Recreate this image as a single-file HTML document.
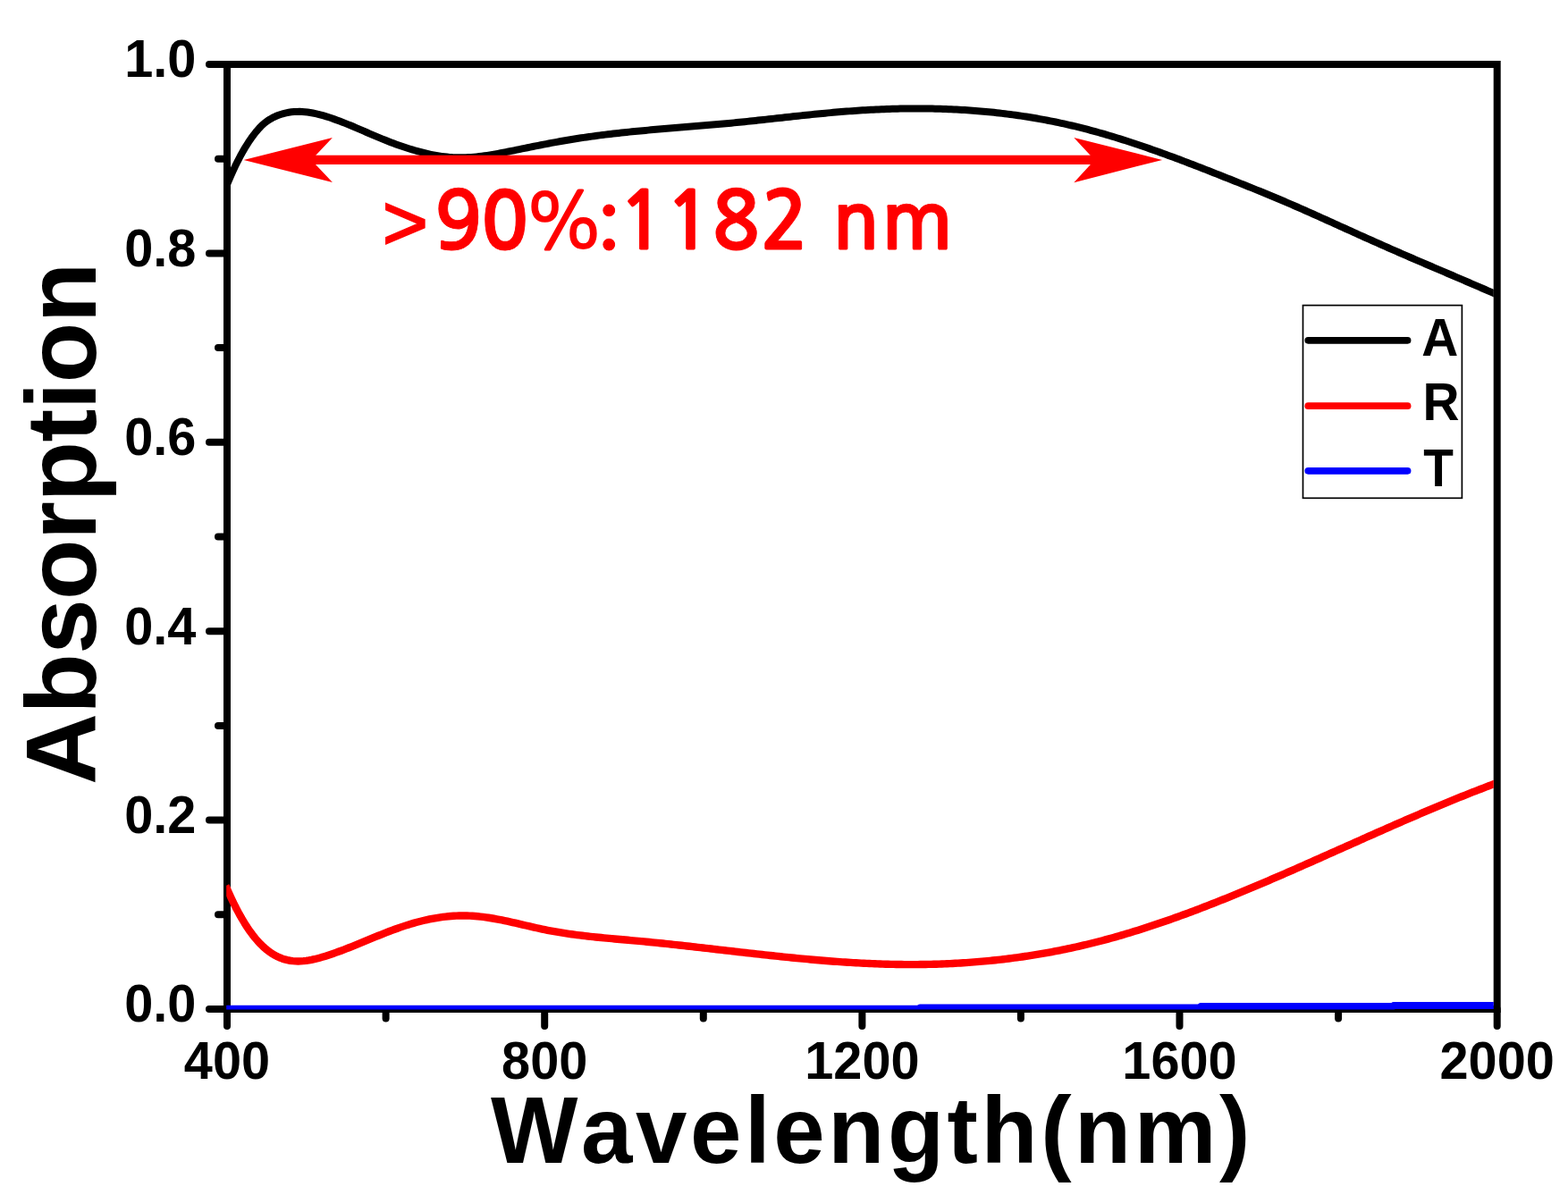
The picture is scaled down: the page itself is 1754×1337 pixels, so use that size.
<!DOCTYPE html>
<html><head><meta charset="utf-8"><style>
html,body{margin:0;padding:0;background:#fff;width:1754px;height:1337px;overflow:hidden}
svg{display:block}
.b{font-family:"Liberation Sans",Arial,sans-serif;font-weight:bold}
text{font-kerning:none;font-feature-settings:"kern" 0}
.nb{font-family:NanumGothic,"Liberation Sans",sans-serif;font-weight:bold;stroke-width:0.9px}
.nr{font-family:NanumGothic,"Liberation Sans",sans-serif;font-weight:normal}
</style></head><body>
<svg width="1754" height="1337" viewBox="0 0 1754 1337">
<defs><clipPath id="c"><rect x="253.2" y="60" width="1417.6" height="1069.5"/></clipPath></defs>
<rect width="1754" height="1337" fill="#fff"/>
<g stroke="#000" stroke-width="8" stroke-linecap="round" fill="none">
<line x1="234" y1="1129.0" x2="254" y2="1129.0"/>
<line x1="244" y1="1023.3" x2="254" y2="1023.3"/>
<line x1="234" y1="917.6" x2="254" y2="917.6"/>
<line x1="244" y1="811.9" x2="254" y2="811.9"/>
<line x1="234" y1="706.2" x2="254" y2="706.2"/>
<line x1="244" y1="600.5" x2="254" y2="600.5"/>
<line x1="234" y1="494.8" x2="254" y2="494.8"/>
<line x1="244" y1="389.1" x2="254" y2="389.1"/>
<line x1="234" y1="283.4" x2="254" y2="283.4"/>
<line x1="244" y1="177.7" x2="254" y2="177.7"/>
<line x1="234" y1="72.0" x2="254" y2="72.0"/>
<line x1="254.0" y1="1129" x2="254.0" y2="1148.0"/>
<line x1="431.6" y1="1129" x2="431.6" y2="1139.5"/>
<line x1="609.2" y1="1129" x2="609.2" y2="1148.0"/>
<line x1="786.8" y1="1129" x2="786.8" y2="1139.5"/>
<line x1="964.4" y1="1129" x2="964.4" y2="1148.0"/>
<line x1="1141.9" y1="1129" x2="1141.9" y2="1139.5"/>
<line x1="1319.5" y1="1129" x2="1319.5" y2="1148.0"/>
<line x1="1497.1" y1="1129" x2="1497.1" y2="1139.5"/>
<line x1="1674.7" y1="1129" x2="1674.7" y2="1148.0"/>
</g>
<rect x="254" y="72" width="1420.7" height="1057" fill="none" stroke="#000" stroke-width="8"/>
<g clip-path="url(#c)" fill="none" stroke-width="8" stroke-linejoin="round">
<path d="M250.0,1128.7 L1028.0,1128.7 L1029.0,1127.4 L1342.0,1127.4 L1343.0,1126.1 L1558.0,1126.1 L1559.0,1125.1 L1678.0,1125.1" stroke="#0000ff" stroke-width="8"/>
<path d="M252.5,990.98 L255.5,997.91 L258.5,1004.52 L261.5,1010.79 L264.5,1016.74 L267.5,1022.37 L270.5,1027.68 L273.5,1032.68 L276.5,1037.37 L279.5,1041.76 L282.5,1045.84 L285.5,1049.63 L288.5,1053.13 L291.5,1056.34 L294.5,1059.27 L297.5,1061.91 L300.5,1064.29 L303.5,1066.40 L306.5,1068.26 L309.5,1069.88 L312.5,1071.28 L315.5,1072.45 L318.5,1073.41 L321.5,1074.18 L324.5,1074.75 L327.5,1075.15 L330.5,1075.38 L333.5,1075.46 L336.5,1075.39 L339.5,1075.18 L342.5,1074.85 L345.5,1074.41 L348.5,1073.86 L351.5,1073.22 L354.5,1072.49 L357.5,1071.69 L360.5,1070.83 L363.5,1069.92 L366.5,1068.97 L369.5,1067.98 L372.5,1066.95 L375.5,1065.90 L378.5,1064.81 L381.5,1063.70 L384.5,1062.56 L387.5,1061.40 L390.5,1060.22 L393.5,1059.03 L396.5,1057.82 L399.5,1056.60 L402.5,1055.37 L405.5,1054.14 L408.5,1052.90 L411.5,1051.66 L414.5,1050.42 L417.5,1049.18 L420.5,1047.96 L423.5,1046.74 L426.5,1045.53 L429.5,1044.34 L432.5,1043.16 L435.5,1042.01 L438.5,1040.87 L441.5,1039.76 L444.5,1038.68 L447.5,1037.63 L450.5,1036.61 L453.5,1035.62 L456.5,1034.67 L459.5,1033.76 L462.5,1032.88 L465.5,1032.05 L468.5,1031.25 L471.5,1030.49 L474.5,1029.77 L477.5,1029.09 L480.5,1028.46 L483.5,1027.87 L486.5,1027.32 L489.5,1026.82 L492.5,1026.36 L495.5,1025.95 L498.5,1025.59 L501.5,1025.27 L504.5,1025.01 L507.5,1024.80 L510.5,1024.63 L513.5,1024.52 L516.5,1024.46 L519.5,1024.46 L522.5,1024.51 L525.5,1024.61 L528.5,1024.77 L531.5,1024.99 L534.5,1025.25 L537.5,1025.56 L540.5,1025.92 L543.5,1026.32 L546.5,1026.76 L549.5,1027.23 L552.5,1027.74 L555.5,1028.28 L558.5,1028.85 L561.5,1029.45 L564.5,1030.07 L567.5,1030.70 L570.5,1031.36 L573.5,1032.03 L576.5,1032.71 L579.5,1033.40 L582.5,1034.09 L585.5,1034.79 L588.5,1035.49 L591.5,1036.18 L594.5,1036.87 L597.5,1037.56 L600.5,1038.23 L603.5,1038.89 L606.5,1039.53 L609.5,1040.15 L612.5,1040.76 L615.5,1041.33 L618.5,1041.89 L621.5,1042.43 L624.5,1042.94 L627.5,1043.44 L630.5,1043.91 L633.5,1044.37 L636.5,1044.81 L639.5,1045.24 L642.5,1045.65 L645.5,1046.04 L648.5,1046.42 L651.5,1046.79 L654.5,1047.14 L657.5,1047.48 L660.5,1047.82 L663.5,1048.14 L666.5,1048.45 L669.5,1048.76 L672.5,1049.05 L675.5,1049.34 L678.5,1049.63 L681.5,1049.91 L684.5,1050.18 L687.5,1050.45 L690.5,1050.72 L693.5,1050.99 L696.5,1051.26 L699.5,1051.52 L702.5,1051.79 L705.5,1052.06 L708.5,1052.33 L711.5,1052.60 L714.5,1052.88 L717.5,1053.16 L720.5,1053.44 L723.5,1053.73 L726.5,1054.02 L729.5,1054.32 L732.5,1054.62 L735.5,1054.92 L738.5,1055.23 L741.5,1055.54 L744.5,1055.86 L747.5,1056.17 L750.5,1056.49 L753.5,1056.81 L756.5,1057.14 L759.5,1057.46 L762.5,1057.79 L765.5,1058.12 L768.5,1058.46 L771.5,1058.79 L774.5,1059.13 L777.5,1059.47 L780.5,1059.81 L783.5,1060.15 L786.5,1060.49 L789.5,1060.83 L792.5,1061.17 L795.5,1061.52 L798.5,1061.86 L801.5,1062.21 L804.5,1062.55 L807.5,1062.90 L810.5,1063.24 L813.5,1063.59 L816.5,1063.93 L819.5,1064.28 L822.5,1064.62 L825.5,1064.97 L828.5,1065.31 L831.5,1065.65 L834.5,1065.99 L837.5,1066.33 L840.5,1066.67 L843.5,1067.00 L846.5,1067.34 L849.5,1067.67 L852.5,1068.00 L855.5,1068.33 L858.5,1068.66 L861.5,1068.98 L864.5,1069.30 L867.5,1069.62 L870.5,1069.94 L873.5,1070.25 L876.5,1070.56 L879.5,1070.87 L882.5,1071.17 L885.5,1071.47 L888.5,1071.77 L891.5,1072.06 L894.5,1072.35 L897.5,1072.64 L900.5,1072.92 L903.5,1073.19 L906.5,1073.46 L909.5,1073.73 L912.5,1073.99 L915.5,1074.25 L918.5,1074.50 L921.5,1074.75 L924.5,1074.99 L927.5,1075.23 L930.5,1075.46 L933.5,1075.69 L936.5,1075.91 L939.5,1076.12 L942.5,1076.33 L945.5,1076.53 L948.5,1076.72 L951.5,1076.91 L954.5,1077.09 L957.5,1077.27 L960.5,1077.43 L963.5,1077.60 L966.5,1077.75 L969.5,1077.89 L972.5,1078.03 L975.5,1078.16 L978.5,1078.29 L981.5,1078.40 L984.5,1078.51 L987.5,1078.61 L990.5,1078.70 L993.5,1078.78 L996.5,1078.85 L999.5,1078.92 L1002.5,1078.97 L1005.5,1079.02 L1008.5,1079.05 L1011.5,1079.08 L1014.5,1079.10 L1017.5,1079.11 L1020.5,1079.11 L1023.5,1079.10 L1026.5,1079.08 L1029.5,1079.05 L1032.5,1079.02 L1035.5,1078.97 L1038.5,1078.91 L1041.5,1078.84 L1044.5,1078.77 L1047.5,1078.68 L1050.5,1078.59 L1053.5,1078.48 L1056.5,1078.36 L1059.5,1078.24 L1062.5,1078.10 L1065.5,1077.96 L1068.5,1077.80 L1071.5,1077.63 L1074.5,1077.46 L1077.5,1077.27 L1080.5,1077.07 L1083.5,1076.87 L1086.5,1076.65 L1089.5,1076.42 L1092.5,1076.18 L1095.5,1075.93 L1098.5,1075.67 L1101.5,1075.40 L1104.5,1075.12 L1107.5,1074.83 L1110.5,1074.53 L1113.5,1074.21 L1116.5,1073.89 L1119.5,1073.55 L1122.5,1073.21 L1125.5,1072.85 L1128.5,1072.48 L1131.5,1072.10 L1134.5,1071.71 L1137.5,1071.31 L1140.5,1070.89 L1143.5,1070.47 L1146.5,1070.03 L1149.5,1069.58 L1152.5,1069.12 L1155.5,1068.65 L1158.5,1068.17 L1161.5,1067.68 L1164.5,1067.17 L1167.5,1066.65 L1170.5,1066.12 L1173.5,1065.58 L1176.5,1065.03 L1179.5,1064.47 L1182.5,1063.89 L1185.5,1063.30 L1188.5,1062.70 L1191.5,1062.09 L1194.5,1061.46 L1197.5,1060.82 L1200.5,1060.17 L1203.5,1059.51 L1206.5,1058.84 L1209.5,1058.15 L1212.5,1057.45 L1215.5,1056.74 L1218.5,1056.02 L1221.5,1055.28 L1224.5,1054.53 L1227.5,1053.77 L1230.5,1052.99 L1233.5,1052.21 L1236.5,1051.41 L1239.5,1050.60 L1242.5,1049.77 L1245.5,1048.94 L1248.5,1048.09 L1251.5,1047.23 L1254.5,1046.36 L1257.5,1045.48 L1260.5,1044.59 L1263.5,1043.69 L1266.5,1042.78 L1269.5,1041.85 L1272.5,1040.92 L1275.5,1039.97 L1278.5,1039.02 L1281.5,1038.05 L1284.5,1037.08 L1287.5,1036.09 L1290.5,1035.10 L1293.5,1034.09 L1296.5,1033.08 L1299.5,1032.05 L1302.5,1031.02 L1305.5,1029.98 L1308.5,1028.93 L1311.5,1027.87 L1314.5,1026.80 L1317.5,1025.72 L1320.5,1024.64 L1323.5,1023.55 L1326.5,1022.45 L1329.5,1021.34 L1332.5,1020.22 L1335.5,1019.09 L1338.5,1017.96 L1341.5,1016.82 L1344.5,1015.67 L1347.5,1014.52 L1350.5,1013.36 L1353.5,1012.19 L1356.5,1011.02 L1359.5,1009.83 L1362.5,1008.65 L1365.5,1007.45 L1368.5,1006.25 L1371.5,1005.04 L1374.5,1003.83 L1377.5,1002.61 L1380.5,1001.39 L1383.5,1000.16 L1386.5,998.92 L1389.5,997.68 L1392.5,996.44 L1395.5,995.19 L1398.5,993.93 L1401.5,992.67 L1404.5,991.41 L1407.5,990.14 L1410.5,988.87 L1413.5,987.59 L1416.5,986.31 L1419.5,985.02 L1422.5,983.73 L1425.5,982.44 L1428.5,981.14 L1431.5,979.84 L1434.5,978.54 L1437.5,977.24 L1440.5,975.93 L1443.5,974.61 L1446.5,973.30 L1449.5,971.98 L1452.5,970.66 L1455.5,969.34 L1458.5,968.02 L1461.5,966.69 L1464.5,965.36 L1467.5,964.04 L1470.5,962.70 L1473.5,961.37 L1476.5,960.04 L1479.5,958.70 L1482.5,957.37 L1485.5,956.03 L1488.5,954.69 L1491.5,953.35 L1494.5,952.01 L1497.5,950.67 L1500.5,949.34 L1503.5,948.00 L1506.5,946.66 L1509.5,945.32 L1512.5,943.98 L1515.5,942.64 L1518.5,941.30 L1521.5,939.96 L1524.5,938.63 L1527.5,937.29 L1530.5,935.96 L1533.5,934.62 L1536.5,933.29 L1539.5,931.96 L1542.5,930.63 L1545.5,929.30 L1548.5,927.98 L1551.5,926.66 L1554.5,925.34 L1557.5,924.02 L1560.5,922.70 L1563.5,921.39 L1566.5,920.08 L1569.5,918.77 L1572.5,917.47 L1575.5,916.16 L1578.5,914.87 L1581.5,913.57 L1584.5,912.28 L1587.5,910.99 L1590.5,909.71 L1593.5,908.43 L1596.5,907.15 L1599.5,905.88 L1602.5,904.61 L1605.5,903.35 L1608.5,902.09 L1611.5,900.84 L1614.5,899.59 L1617.5,898.35 L1620.5,897.11 L1623.5,895.88 L1626.5,894.65 L1629.5,893.43 L1632.5,892.21 L1635.5,891.00 L1638.5,889.80 L1641.5,888.60 L1644.5,887.41 L1647.5,886.22 L1650.5,885.05 L1653.5,883.87 L1656.5,882.71 L1659.5,881.55 L1662.5,880.40 L1665.5,879.25 L1668.5,878.12 L1671.5,876.99 L1674.5,875.87 L1677.5,874.75" stroke="#ff0000" stroke-width="8.4"/>
<path d="M251.0,213.56 L254.0,206.43 L257.0,199.45 L260.0,192.69 L263.0,186.19 L266.0,180.03 L269.0,174.26 L272.0,168.86 L275.0,163.81 L278.0,159.11 L281.0,154.72 L284.0,150.63 L287.0,146.84 L290.0,143.40 L293.0,140.32 L296.0,137.63 L299.0,135.33 L302.0,133.38 L305.0,131.72 L308.0,130.29 L311.0,129.04 L314.0,127.96 L317.0,127.06 L320.0,126.33 L323.0,125.75 L326.0,125.32 L329.0,125.03 L332.0,124.88 L335.0,124.86 L338.0,124.97 L341.0,125.19 L344.0,125.52 L347.0,125.95 L350.0,126.48 L353.0,127.10 L356.0,127.80 L359.0,128.58 L362.0,129.42 L365.0,130.33 L368.0,131.29 L371.0,132.31 L374.0,133.36 L377.0,134.45 L380.0,135.57 L383.0,136.72 L386.0,137.89 L389.0,139.09 L392.0,140.32 L395.0,141.56 L398.0,142.82 L401.0,144.10 L404.0,145.39 L407.0,146.70 L410.0,148.00 L413.0,149.30 L416.0,150.60 L419.0,151.89 L422.0,153.15 L425.0,154.40 L428.0,155.63 L431.0,156.83 L434.0,158.01 L437.0,159.17 L440.0,160.30 L443.0,161.40 L446.0,162.48 L449.0,163.53 L452.0,164.54 L455.0,165.53 L458.0,166.48 L461.0,167.40 L464.0,168.29 L467.0,169.14 L470.0,169.95 L473.0,170.73 L476.0,171.46 L479.0,172.15 L482.0,172.80 L485.0,173.39 L488.0,173.94 L491.0,174.44 L494.0,174.88 L497.0,175.27 L500.0,175.60 L503.0,175.87 L506.0,176.09 L509.0,176.24 L512.0,176.32 L515.0,176.35 L518.0,176.31 L521.0,176.22 L524.0,176.08 L527.0,175.89 L530.0,175.65 L533.0,175.37 L536.0,175.05 L539.0,174.68 L542.0,174.28 L545.0,173.85 L548.0,173.39 L551.0,172.90 L554.0,172.38 L557.0,171.84 L560.0,171.28 L563.0,170.71 L566.0,170.12 L569.0,169.52 L572.0,168.91 L575.0,168.30 L578.0,167.68 L581.0,167.06 L584.0,166.44 L587.0,165.83 L590.0,165.22 L593.0,164.61 L596.0,164.01 L599.0,163.41 L602.0,162.81 L605.0,162.22 L608.0,161.64 L611.0,161.06 L614.0,160.49 L617.0,159.92 L620.0,159.36 L623.0,158.82 L626.0,158.28 L629.0,157.74 L632.0,157.22 L635.0,156.71 L638.0,156.21 L641.0,155.72 L644.0,155.24 L647.0,154.78 L650.0,154.32 L653.0,153.87 L656.0,153.44 L659.0,153.01 L662.0,152.60 L665.0,152.19 L668.0,151.79 L671.0,151.40 L674.0,151.02 L677.0,150.65 L680.0,150.29 L683.0,149.93 L686.0,149.58 L689.0,149.24 L692.0,148.91 L695.0,148.58 L698.0,148.26 L701.0,147.95 L704.0,147.64 L707.0,147.34 L710.0,147.04 L713.0,146.75 L716.0,146.46 L719.0,146.18 L722.0,145.90 L725.0,145.62 L728.0,145.35 L731.0,145.09 L734.0,144.82 L737.0,144.56 L740.0,144.30 L743.0,144.05 L746.0,143.79 L749.0,143.54 L752.0,143.29 L755.0,143.04 L758.0,142.79 L761.0,142.55 L764.0,142.30 L767.0,142.05 L770.0,141.81 L773.0,141.56 L776.0,141.31 L779.0,141.07 L782.0,140.82 L785.0,140.57 L788.0,140.32 L791.0,140.06 L794.0,139.81 L797.0,139.55 L800.0,139.29 L803.0,139.02 L806.0,138.75 L809.0,138.48 L812.0,138.21 L815.0,137.93 L818.0,137.65 L821.0,137.36 L824.0,137.07 L827.0,136.77 L830.0,136.47 L833.0,136.16 L836.0,135.86 L839.0,135.54 L842.0,135.23 L845.0,134.91 L848.0,134.59 L851.0,134.27 L854.0,133.95 L857.0,133.62 L860.0,133.30 L863.0,132.97 L866.0,132.64 L869.0,132.31 L872.0,131.99 L875.0,131.66 L878.0,131.33 L881.0,131.00 L884.0,130.68 L887.0,130.35 L890.0,130.03 L893.0,129.71 L896.0,129.39 L899.0,129.07 L902.0,128.76 L905.0,128.45 L908.0,128.14 L911.0,127.84 L914.0,127.54 L917.0,127.25 L920.0,126.96 L923.0,126.67 L926.0,126.39 L929.0,126.12 L932.0,125.85 L935.0,125.58 L938.0,125.33 L941.0,125.08 L944.0,124.83 L947.0,124.60 L950.0,124.37 L953.0,124.15 L956.0,123.93 L959.0,123.73 L962.0,123.53 L965.0,123.34 L968.0,123.16 L971.0,122.99 L974.0,122.82 L977.0,122.67 L980.0,122.52 L983.0,122.39 L986.0,122.26 L989.0,122.14 L992.0,122.03 L995.0,121.92 L998.0,121.83 L1001.0,121.75 L1004.0,121.67 L1007.0,121.61 L1010.0,121.56 L1013.0,121.51 L1016.0,121.47 L1019.0,121.45 L1022.0,121.43 L1025.0,121.42 L1028.0,121.43 L1031.0,121.44 L1034.0,121.46 L1037.0,121.50 L1040.0,121.54 L1043.0,121.59 L1046.0,121.66 L1049.0,121.73 L1052.0,121.82 L1055.0,121.91 L1058.0,122.02 L1061.0,122.14 L1064.0,122.27 L1067.0,122.41 L1070.0,122.56 L1073.0,122.72 L1076.0,122.89 L1079.0,123.07 L1082.0,123.27 L1085.0,123.47 L1088.0,123.69 L1091.0,123.92 L1094.0,124.16 L1097.0,124.41 L1100.0,124.68 L1103.0,124.95 L1106.0,125.24 L1109.0,125.54 L1112.0,125.85 L1115.0,126.18 L1118.0,126.51 L1121.0,126.86 L1124.0,127.22 L1127.0,127.60 L1130.0,127.98 L1133.0,128.38 L1136.0,128.79 L1139.0,129.22 L1142.0,129.65 L1145.0,130.10 L1148.0,130.57 L1151.0,131.04 L1154.0,131.53 L1157.0,132.03 L1160.0,132.55 L1163.0,133.08 L1166.0,133.62 L1169.0,134.18 L1172.0,134.75 L1175.0,135.33 L1178.0,135.93 L1181.0,136.54 L1184.0,137.16 L1187.0,137.80 L1190.0,138.45 L1193.0,139.12 L1196.0,139.80 L1199.0,140.50 L1202.0,141.21 L1205.0,141.93 L1208.0,142.67 L1211.0,143.42 L1214.0,144.19 L1217.0,144.97 L1220.0,145.77 L1223.0,146.58 L1226.0,147.41 L1229.0,148.24 L1232.0,149.09 L1235.0,149.96 L1238.0,150.83 L1241.0,151.72 L1244.0,152.62 L1247.0,153.53 L1250.0,154.46 L1253.0,155.39 L1256.0,156.34 L1259.0,157.30 L1262.0,158.26 L1265.0,159.24 L1268.0,160.23 L1271.0,161.23 L1274.0,162.24 L1277.0,163.26 L1280.0,164.28 L1283.0,165.32 L1286.0,166.36 L1289.0,167.42 L1292.0,168.48 L1295.0,169.55 L1298.0,170.63 L1301.0,171.71 L1304.0,172.80 L1307.0,173.90 L1310.0,175.01 L1313.0,176.12 L1316.0,177.24 L1319.0,178.36 L1322.0,179.50 L1325.0,180.63 L1328.0,181.77 L1331.0,182.92 L1334.0,184.07 L1337.0,185.23 L1340.0,186.39 L1343.0,187.55 L1346.0,188.72 L1349.0,189.89 L1352.0,191.07 L1355.0,192.25 L1358.0,193.43 L1361.0,194.61 L1364.0,195.80 L1367.0,196.99 L1370.0,198.18 L1373.0,199.37 L1376.0,200.57 L1379.0,201.76 L1382.0,202.96 L1385.0,204.15 L1388.0,205.35 L1391.0,206.55 L1394.0,207.75 L1397.0,208.96 L1400.0,210.16 L1403.0,211.37 L1406.0,212.59 L1409.0,213.81 L1412.0,215.03 L1415.0,216.26 L1418.0,217.49 L1421.0,218.73 L1424.0,219.98 L1427.0,221.24 L1430.0,222.50 L1433.0,223.77 L1436.0,225.05 L1439.0,226.33 L1442.0,227.63 L1445.0,228.92 L1448.0,230.23 L1451.0,231.54 L1454.0,232.85 L1457.0,234.17 L1460.0,235.50 L1463.0,236.83 L1466.0,238.16 L1469.0,239.50 L1472.0,240.84 L1475.0,242.19 L1478.0,243.53 L1481.0,244.88 L1484.0,246.24 L1487.0,247.59 L1490.0,248.95 L1493.0,250.30 L1496.0,251.66 L1499.0,253.02 L1502.0,254.38 L1505.0,255.74 L1508.0,257.10 L1511.0,258.46 L1514.0,259.82 L1517.0,261.18 L1520.0,262.53 L1523.0,263.88 L1526.0,265.24 L1529.0,266.59 L1532.0,267.93 L1535.0,269.27 L1538.0,270.61 L1541.0,271.95 L1544.0,273.28 L1547.0,274.61 L1550.0,275.94 L1553.0,277.26 L1556.0,278.57 L1559.0,279.89 L1562.0,281.20 L1565.0,282.51 L1568.0,283.81 L1571.0,285.11 L1574.0,286.41 L1577.0,287.71 L1580.0,289.01 L1583.0,290.30 L1586.0,291.59 L1589.0,292.88 L1592.0,294.17 L1595.0,295.46 L1598.0,296.74 L1601.0,298.03 L1604.0,299.31 L1607.0,300.59 L1610.0,301.88 L1613.0,303.16 L1616.0,304.44 L1619.0,305.73 L1622.0,307.01 L1625.0,308.29 L1628.0,309.58 L1631.0,310.86 L1634.0,312.15 L1637.0,313.43 L1640.0,314.72 L1643.0,316.01 L1646.0,317.30 L1649.0,318.59 L1652.0,319.89 L1655.0,321.18 L1658.0,322.48 L1661.0,323.78 L1664.0,325.09 L1667.0,326.39 L1670.0,327.70 L1673.0,329.02 L1676.0,330.33" stroke="#000"/>
</g>
<g class="b" font-size="58" fill="#000">
<text transform="translate(219.4,1143.4) scale(0.995,1.020)" text-anchor="end">0.0</text>
<text transform="translate(219.4,932.0) scale(0.995,1.020)" text-anchor="end">0.2</text>
<text transform="translate(219.4,720.6) scale(0.995,1.020)" text-anchor="end">0.4</text>
<text transform="translate(219.4,509.2) scale(0.995,1.020)" text-anchor="end">0.6</text>
<text transform="translate(219.4,297.8) scale(0.995,1.020)" text-anchor="end">0.8</text>
<text transform="translate(219.4,86.4) scale(0.995,1.020)" text-anchor="end">1.0</text>
<text transform="translate(254.0,1207.4) scale(0.995,1.020)" text-anchor="middle">400</text>
<text transform="translate(609.2,1207.4) scale(0.995,1.020)" text-anchor="middle">800</text>
<text transform="translate(964.4,1207.4) scale(0.995,1.020)" text-anchor="middle">1200</text>
<text transform="translate(1319.5,1207.4) scale(0.995,1.020)" text-anchor="middle">1600</text>
<text transform="translate(1674.7,1207.4) scale(0.995,1.020)" text-anchor="middle">2000</text>
</g>
<text class="b" font-size="103.2" transform="translate(549.07,1301.4) scale(1,1.03)" letter-spacing="3.6">Wavelength(nm)</text>
<text class="b" font-size="110.5" transform="translate(107,878.06) rotate(-90)" letter-spacing="-0.55">Absorption</text>
<rect x="1457.5" y="341.6" width="177.9" height="215.7" fill="#fff" stroke="#000" stroke-width="1.7"/>
<g stroke-width="7.7" stroke-linecap="round">
<line x1="1463.3" y1="380.8" x2="1574.6" y2="380.8" stroke="#000"/>
<line x1="1463.3" y1="454.2" x2="1574.6" y2="454.2" stroke="#ff0000"/>
<line x1="1463.3" y1="526.8" x2="1574.6" y2="526.8" stroke="#0000ff"/>
</g>
<g class="b" font-size="58" fill="#000">
<text transform="translate(1590.2,397.8) scale(0.98,1.03)">A</text>
<text transform="translate(1591.4,470.3) scale(0.98,1.03)">R</text>
<text transform="translate(1592.3,543.5) scale(0.95,1.03)">T</text>
</g>
<g fill="#ff0000">
<rect x="346" y="173.7" width="881" height="10.3"/>
<polygon points="272.6,178.9 371.9,153.9 348.3,178.9 371.9,203.9"/>
<polygon points="1300.1,178.9 1201.3,153.9 1224.5,178.9 1201.3,204.2"/>
</g>
<text class="nb" font-size="89" fill="#ff0000" stroke="#ff0000"><tspan x="427.7" y="279.3" font-family="'Liberation Sans',sans-serif" font-weight="normal" font-size="87.6" stroke-width="2">&gt;</tspan><tspan x="485.7" y="279.3">9</tspan><tspan x="537.8">0</tspan><tspan x="584.7" y="277.8" class="nr" font-size="85" stroke-width="2">%</tspan><tspan x="667.9" y="286.3" font-size="84">:</tspan><tspan x="691.2" y="279.3">1</tspan><tspan x="743.6">1</tspan><tspan x="796.2">8</tspan><tspan x="850.7">2</tspan> <tspan x="930.4">n</tspan><tspan x="985.4">m</tspan></text>
</svg>
</body></html>
